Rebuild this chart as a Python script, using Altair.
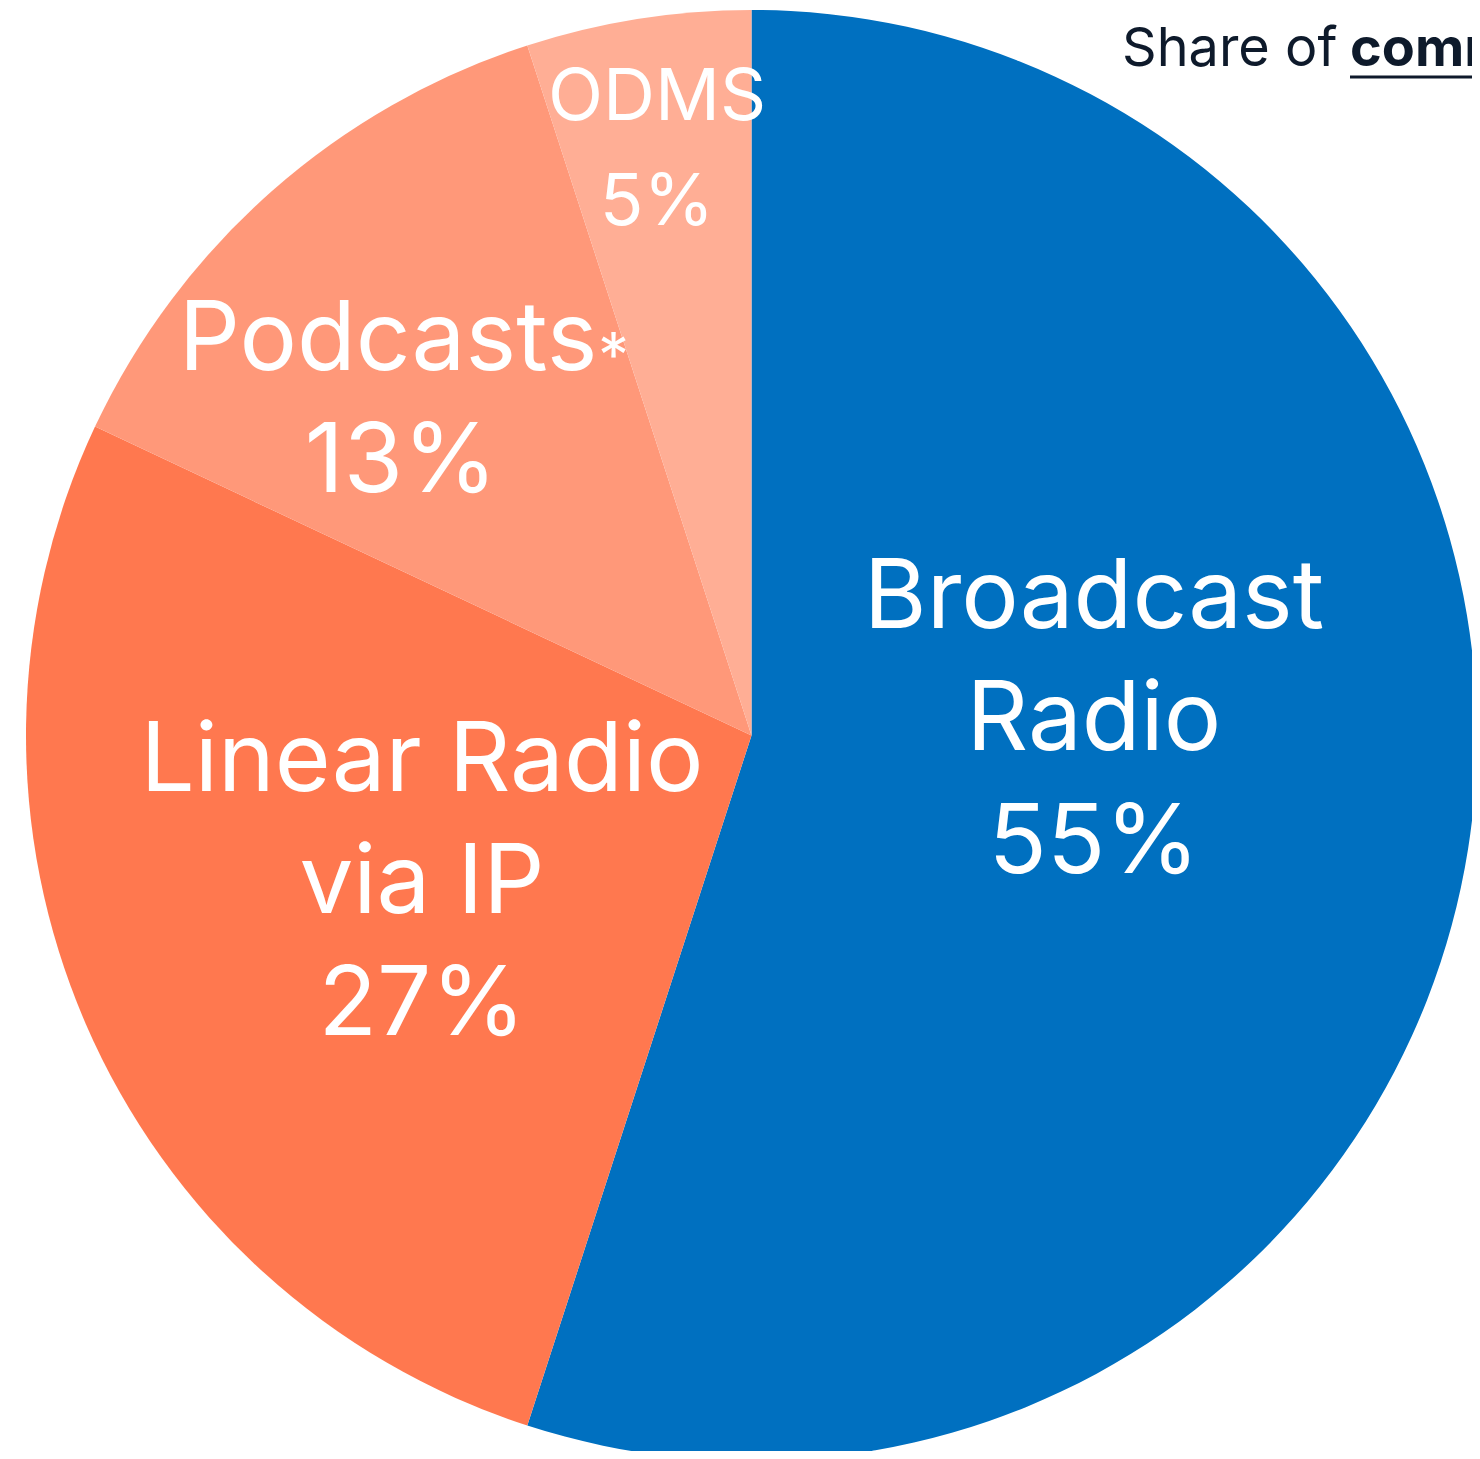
import altair as alt
import pandas as pd

# ---- data ----
categories = ["Broadcast Radio", "Linear Radio via IP", "Podcasts", "ODMS"]
shares = [55, 27, 13, 5]
colors = ["#0070C0", "#FF784F", "#FF9879", "#FFAE95"]
label_lines = [["Broadcast", "Radio"], ["Linear Radio", "via IP"], ["Podcasts"], ["ODMS"]]
title_regular = "Share of "
title_bold = "commercial audio listening"

df = pd.DataFrame({"category": categories, "share": shares, "idx": list(range(len(categories)))})

W, H = 1464, 1443
CX, CY, R = 743.5, 727.5, 725.5
FONT = "Inter"
BIG = 96

pie = alt.Chart(df).mark_arc(radius=R, stroke=None).encode(
    theta=alt.Theta("share:Q", stack=True),
    color=alt.Color("category:N", scale=alt.Scale(domain=categories, range=colors), legend=None),
    order=alt.Order("idx:Q"),
    x=alt.value(CX),
    y=alt.value(CY),
)

base = alt.Chart(pd.DataFrame({"k": [0]}))


def txt(s, x, y, size, align="center", weight="normal", color="white"):
    return base.mark_text(
        font=FONT, fontSize=size, fontWeight=weight, align=align,
        baseline="alphabetic", color=color,
    ).encode(x=alt.value(x), y=alt.value(y), text=alt.value(s))


layers = [pie]
# Broadcast Radio
layers += [txt(label_lines[0][0], 1086, 620, BIG), txt(label_lines[0][1], 1086, 742, BIG),
           txt(f"{shares[0]}%", 1086, 865, BIG)]
# Linear Radio via IP
layers += [txt(label_lines[1][0], 414, 783, BIG), txt(label_lines[1][1], 414, 905, BIG),
           txt(f"{shares[1]}%", 414, 1027, BIG)]
# Podcasts
layers += [txt(label_lines[2][0], 380, 362, BIG), txt("*", 590, 369, 62, align="left"),
           txt(f"{shares[2]}%", 393, 484, BIG)]
# ODMS
layers += [txt(label_lines[3][0], 649, 112, 72), txt(f"{shares[3]}%", 649, 217, 72)]

# Title (partially visible, as in the reference)
layers += [txt(title_regular, 1114, 58, 54, align="left", color="#0E1A2B"),
           txt(title_bold, 1342, 58, 54, align="left", weight="bold", color="#0E1A2B")]
underline = base.mark_rule(color="#0E1A2B", strokeWidth=3).encode(
    x=alt.value(1342), x2=alt.value(W + 20), y=alt.value(69)
)
layers.append(underline)

chart = alt.layer(*layers).properties(
    width=W, height=H, padding=0, autosize=alt.AutoSizeParams(type="none"), background="white"
).configure_view(stroke=None)

chart.save("out.html", embed_options={"renderer": "svg", "actions": False})
